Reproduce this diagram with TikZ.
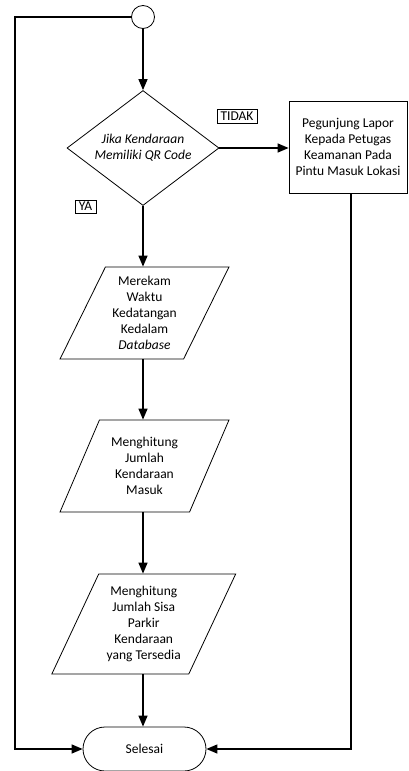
\documentclass[tikz,border=0pt]{standalone}
\usepackage{fontspec}
\setmainfont{Carlito}
\usetikzlibrary{positioning,shapes.geometric,shapes.misc,arrows.meta}

\tikzset{
  flowline/.style={line width=1.3pt,-{Triangle[length=11pt,width=9pt]}},
  outline/.style={draw,line width=0.8pt,inner sep=0pt,align=center},
  datanode/.style={outline,trapezium,trapezium stretches=true,
    trapezium left angle=63,trapezium right angle=117,minimum height=92pt},
  labelbox/.style={draw,line width=0.6pt,inner sep=0pt,minimum height=14pt}
}

\begin{document}
\begin{tikzpicture}[x=1pt,y=-1pt,font=\fontsize{13.5}{16}\selectfont]
	\useasboundingbox (0,0) rectangle (408,771);
	
	\node[outline,circle,minimum size=23pt] (start) at (143,17) {};
	
	\node[outline,diamond,aspect=1.32,minimum width=152pt,minimum height=115pt] (cek) at (143,148) {\textit{Jika Kendaraan}\\\textit{Memiliki QR Code}};
	
	\node[outline,minimum width=118pt,minimum height=92pt] (lapor) at (348,147) {Pegunjung Lapor\\Kepada Petugas\\Keamanan Pada\\Pintu Masuk Lokasi};
	
	\node[datanode,minimum width=169pt] (rekam) at (144.5,313) {Merekam\\Waktu\\Kedatangan\\Kedalam\\\textit{Database}};
	
	\node[datanode,minimum width=169pt] (hitung) at (144.5,466) {Menghitung\\Jumlah\\Kendaraan\\Masuk};
	
	\node[datanode,minimum width=184pt,minimum height=100pt] (sisa) at (143.75,624) {Menghitung\\Jumlah Sisa\\Parkir\\Kendaraan\\yang Tersedia};
	
	\node[outline,rounded rectangle,minimum width=123pt,minimum height=44pt] (selesai) at (144.5,749) {Selesai};
	
	\node[labelbox,minimum width=40pt] (tidak) at (237,116) {TIDAK};
	\node[labelbox,minimum width=21pt,minimum height=13pt] (ya) at (85.5,206.5) {YA};
	
	\coordinate (kiri) at (15,17);
	
	\draw[flowline] (start) -- (cek);
	\draw[flowline] (cek.east) -- (cek.east -| lapor.west);
	\draw[flowline] (cek) -- (rekam.north -| cek.south);
	\draw[flowline] (rekam.south -| cek.south) -- (hitung.north -| cek.south);
	\draw[flowline] (hitung.south -| cek.south) -- (sisa.north -| cek.south);
	\draw[flowline] (sisa.south -| cek.south) -- (selesai.north -| cek.south);
	\draw[flowline] (start.west) -- (kiri) |- (selesai.west);
	\draw[flowline] ([xshift=3pt]lapor.south) |- (selesai.east);
	
\end{tikzpicture}
\end{document}
